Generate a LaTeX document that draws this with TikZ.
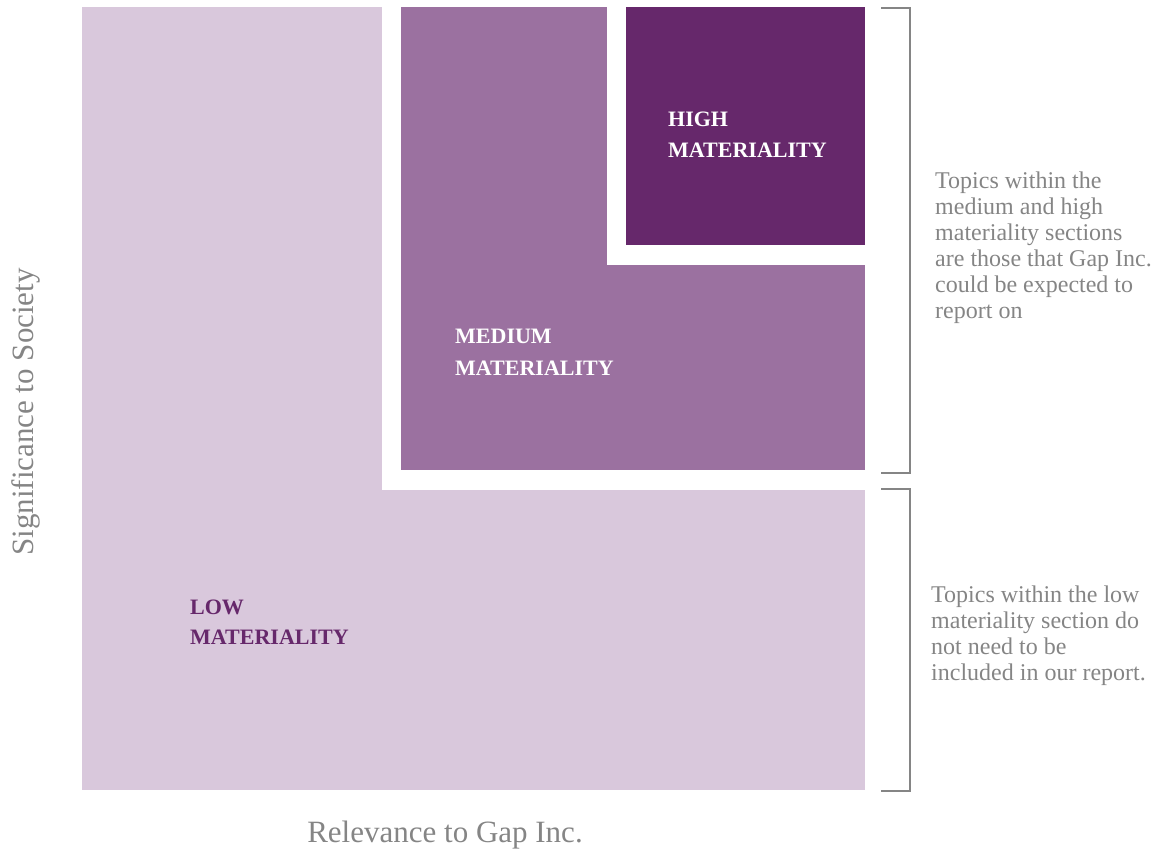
\documentclass[tikz,border=0pt]{standalone}
\usepackage{fontspec}
\setmainfont{Liberation Serif}
\usepackage{tikz}
\usepackage{xcolor}

\definecolor{lowmat}{HTML}{D9C8DC}
\definecolor{medmat}{HTML}{9B71A0}
\definecolor{highmat}{HTML}{66286B}
\definecolor{notegray}{HTML}{858585}

\begin{document}
\begin{tikzpicture}[x=1pt, y=-1pt,
  every node/.style={inner sep=0pt, anchor=base west},
  matlabel/.style={font=\bfseries\fontsize{22}{22}\selectfont},
  note/.style={text=notegray, font=\fontsize{24}{26}\selectfont},
  axis/.style={text=notegray, font=\fontsize{31}{31}\selectfont, anchor=base},
  bracket/.style={draw=notegray, line width=1.5pt}]

\useasboundingbox (0,0) rectangle (1157,850);

% Low materiality (whole field)
\fill[lowmat] (82,7) rectangle (865,790);

% Medium materiality, with white frame
\fill[white] (382,7) rectangle (865,490);
\fill[medmat] (401,7) rectangle (865,470);

% High materiality, with white frame
\fill[white] (607,7) rectangle (865,265);
\fill[highmat] (626,7) rectangle (865,245);

% Section labels
\node[matlabel, text=white] (high1) at (668,127) {HIGH};
\node[matlabel, text=white] (high2) at (668,158) {MATERIALITY};
\node[matlabel, text=white] (med1) at (455,344) {MEDIUM};
\node[matlabel, text=white] (med2) at (455,375) {MATERIALITY};
\node[matlabel, text=highmat] (low1) at (190,614) {LOW};
\node[matlabel, text=highmat] (low2) at (190,644) {MATERIALITY};

% Brackets on the right
\coordinate (T1) at (881,8);
\coordinate (B1) at (881,473);
\draw[bracket] (T1) -- ++(29,0) |- (B1);
\coordinate (T2) at (881,489);
\coordinate (B2) at (881,791);
\draw[bracket] (T2) -- ++(29,0) |- (B2);

% Notes next to the brackets
\foreach \txt [count=\i] in {Topics within the, medium and high, materiality sections,
  are those that Gap Inc., could be expected to, report on}
  \node[note] (upper\i) at (935,163+26*\i) {\txt};
\foreach \txt [count=\i] in {Topics within the low, materiality section do,
  not need to be, included in our report.}
  \node[note] (lower\i) at (931,576+26*\i) {\txt};

% Axis titles
\node[axis] (xaxis) at (445,842) {Relevance to Gap Inc.};
\node[axis, rotate=90] (yaxis) at (33,412) {Significance to Society};

\end{tikzpicture}
\end{document}
